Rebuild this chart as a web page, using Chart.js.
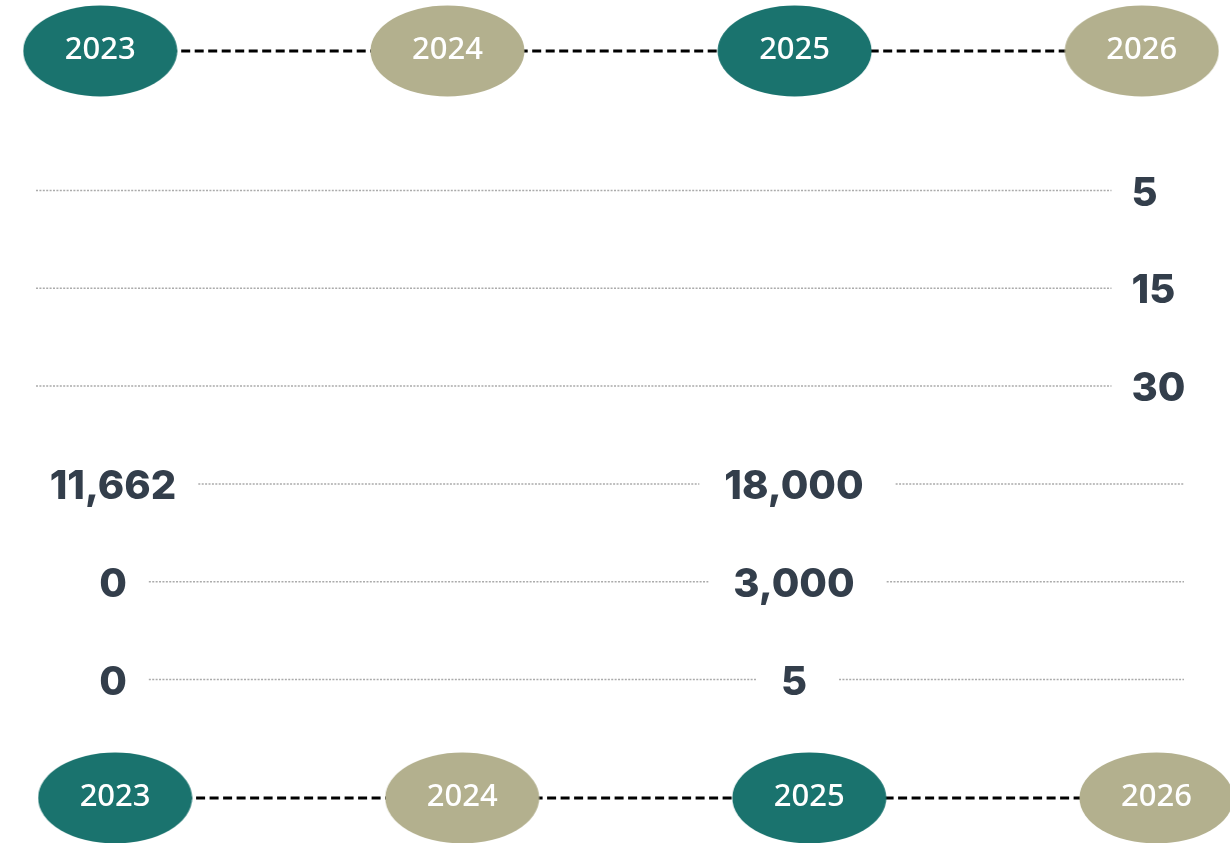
<!DOCTYPE html>
<html><head><meta charset="utf-8">
<script src="https://cdn.jsdelivr.net/npm/chart.js@4/dist/chart.umd.min.js"></script>
<style>html,body{margin:0;padding:0;background:#fff;overflow:hidden}</style>
</head><body>
<canvas id="c" width="1230" height="843"></canvas>
<script>
// ---- data ----
const years = ['2023', '2024', '2025', '2026'];
const yearColors = ['#1a736e', '#b3b08e', '#1a736e', '#b3b08e'];
const metricRows = [0, 1, 2, 3, 4, 5];
const values2023 = [null, null, null, 11662, 0, 0];
const values2025 = [null, null, null, 18000, 3000, 5];
const values2026 = [5, 15, 30, null, null, null];
const valueColumns = [
  { col: 0, values: values2023, align: 'center' },
  { col: 2, values: values2025, align: 'center' },
  { col: 3, values: values2026, align: 'left' }
];

// ---- styling ----
const VALUE_FONT = '800 40px Inter, "Liberation Sans", Arial, sans-serif';
const VALUE_COLOR = '#333e4b';
const YEAR_FONT = '500 31px "Noto Sans", "Open Sans", sans-serif';

function ellipseCanvas(color) {
  const cv = document.createElement('canvas');
  cv.width = 155; cv.height = 92;
  const g = cv.getContext('2d');
  g.fillStyle = color;
  g.beginPath();
  g.ellipse(77.5, 46, 77, 45.5, 0, 0, Math.PI * 2);
  g.fill();
  return cv;
}
const ellipseStyles = yearColors.map(ellipseCanvas);

function timelineDataset(xAxisID, yVal) {
  return {
    type: 'line',
    label: 'timeline',
    isTimeline: true,
    data: years.map((y, i) => ({ x: i, y: yVal })),
    xAxisID, yAxisID: 'yT',
    borderColor: '#000',
    borderWidth: 3,
    borderDash: [9, 4.5],
    pointStyle: ellipseStyles,
    pointRadius: 1,
    pointHoverRadius: 1,
    fill: false,
    clip: false
  };
}

const valueDatasets = valueColumns.map(vc => ({
  type: 'scatter',
  label: 'values ' + years[vc.col],
  isValues: true,
  align: vc.align,
  data: metricRows.map(r => vc.values[r] === null ? null : { x: vc.col, y: r, v: vc.values[r] }).filter(d => d),
  xAxisID: 'xVal', yAxisID: 'yRow',
  pointRadius: 0
}));

const fmt = new Intl.NumberFormat('en-US');

const drawPlugin = {
  id: 'drawPlugin',
  beforeDatasetsDraw(chart) {
    // dotted guide lines per metric row, filling gaps between value labels
    const ctx = chart.ctx;
    const area = chart.chartArea;
    const yRow = chart.scales.yRow;
    ctx.save();
    ctx.font = VALUE_FONT;
    ctx.strokeStyle = '#ababab';
    ctx.lineWidth = 1.5;
    ctx.setLineDash([2, 1.4]);
    metricRows.forEach(r => {
      const y = yRow.getPixelForValue(r) - 3;
      const boxes = [];
      chart.data.datasets.forEach((ds, di) => {
        if (!ds.isValues) return;
        const meta = chart.getDatasetMeta(di);
        ds.data.forEach((d, i) => {
          if (d.y !== r) return;
          const el = meta.data[i];
          const w = ctx.measureText(fmt.format(d.v)).width;
          const left = ds.align === 'left' ? el.x - 3 : el.x - w / 2;
          boxes.push({ col: d.x, left, right: left + w });
        });
      });
      boxes.sort((a, b) => a.left - b.left);
      let start = area.left + 36;
      const segs = [];
      boxes.forEach(b => {
        const gapBefore = b.col === 3 ? 20 : 25;
        if (b.col !== 0) segs.push([start, b.left - gapBefore]);
        start = b.right + (b.col === 0 ? 22 : 32);
      });
      const last = boxes[boxes.length - 1];
      if (!last || last.col !== 3) segs.push([start, area.right - 46]);
      segs.forEach(([a, b]) => {
        if (b <= a) return;
        ctx.beginPath();
        ctx.moveTo(a, y);
        ctx.lineTo(b, y);
        ctx.stroke();
      });
    });
    ctx.restore();
  },
  afterDatasetsDraw(chart) {
    const ctx = chart.ctx;
    ctx.save();
    chart.data.datasets.forEach((ds, di) => {
      const meta = chart.getDatasetMeta(di);
      if (ds.isTimeline) {
        ctx.font = YEAR_FONT;
        ctx.fillStyle = '#ffffff';
        ctx.textAlign = 'center';
        ctx.textBaseline = 'middle';
        meta.data.forEach((el, i) => ctx.fillText(years[i], el.x, el.y - 1));
      } else if (ds.isValues) {
        ctx.font = VALUE_FONT;
        ctx.fillStyle = VALUE_COLOR;
        ctx.textAlign = ds.align === 'left' ? 'left' : 'center';
        ctx.textBaseline = 'middle';
        meta.data.forEach((el, i) => {
          const x = ds.align === 'left' ? el.x - 3 : el.x;
          ctx.fillText(fmt.format(ds.data[i].v), x, el.y);
        });
      }
    });
    ctx.restore();
  }
};

new Chart(document.getElementById('c'), {
  data: {
    datasets: [timelineDataset('xTop', 0), timelineDataset('xBot', 1), ...valueDatasets]
  },
  options: {
    responsive: false,
    devicePixelRatio: 1,
    animation: false,
    layout: { padding: 0, autoPadding: false },
    plugins: { legend: { display: false }, tooltip: { enabled: false } },
    events: [],
    scales: {
      xTop: { type: 'linear', display: false, min: -100.2 / 347.2, max: 1129.8 / 347.2 },
      xBot: { type: 'linear', display: false, min: -115.1 / 347.1, max: 1114.9 / 347.1 },
      xVal: { type: 'linear', display: false, min: -113 / 340.5, max: 1117 / 340.5 },
      yRow: { type: 'linear', display: false, reverse: true, min: -193.5 / 97.8, max: 649.5 / 97.8 },
      yT: { type: 'linear', display: false, reverse: true, min: -51 / 747, max: 792 / 747 }
    }
  },
  plugins: [drawPlugin]
});
</script>
</body></html>
